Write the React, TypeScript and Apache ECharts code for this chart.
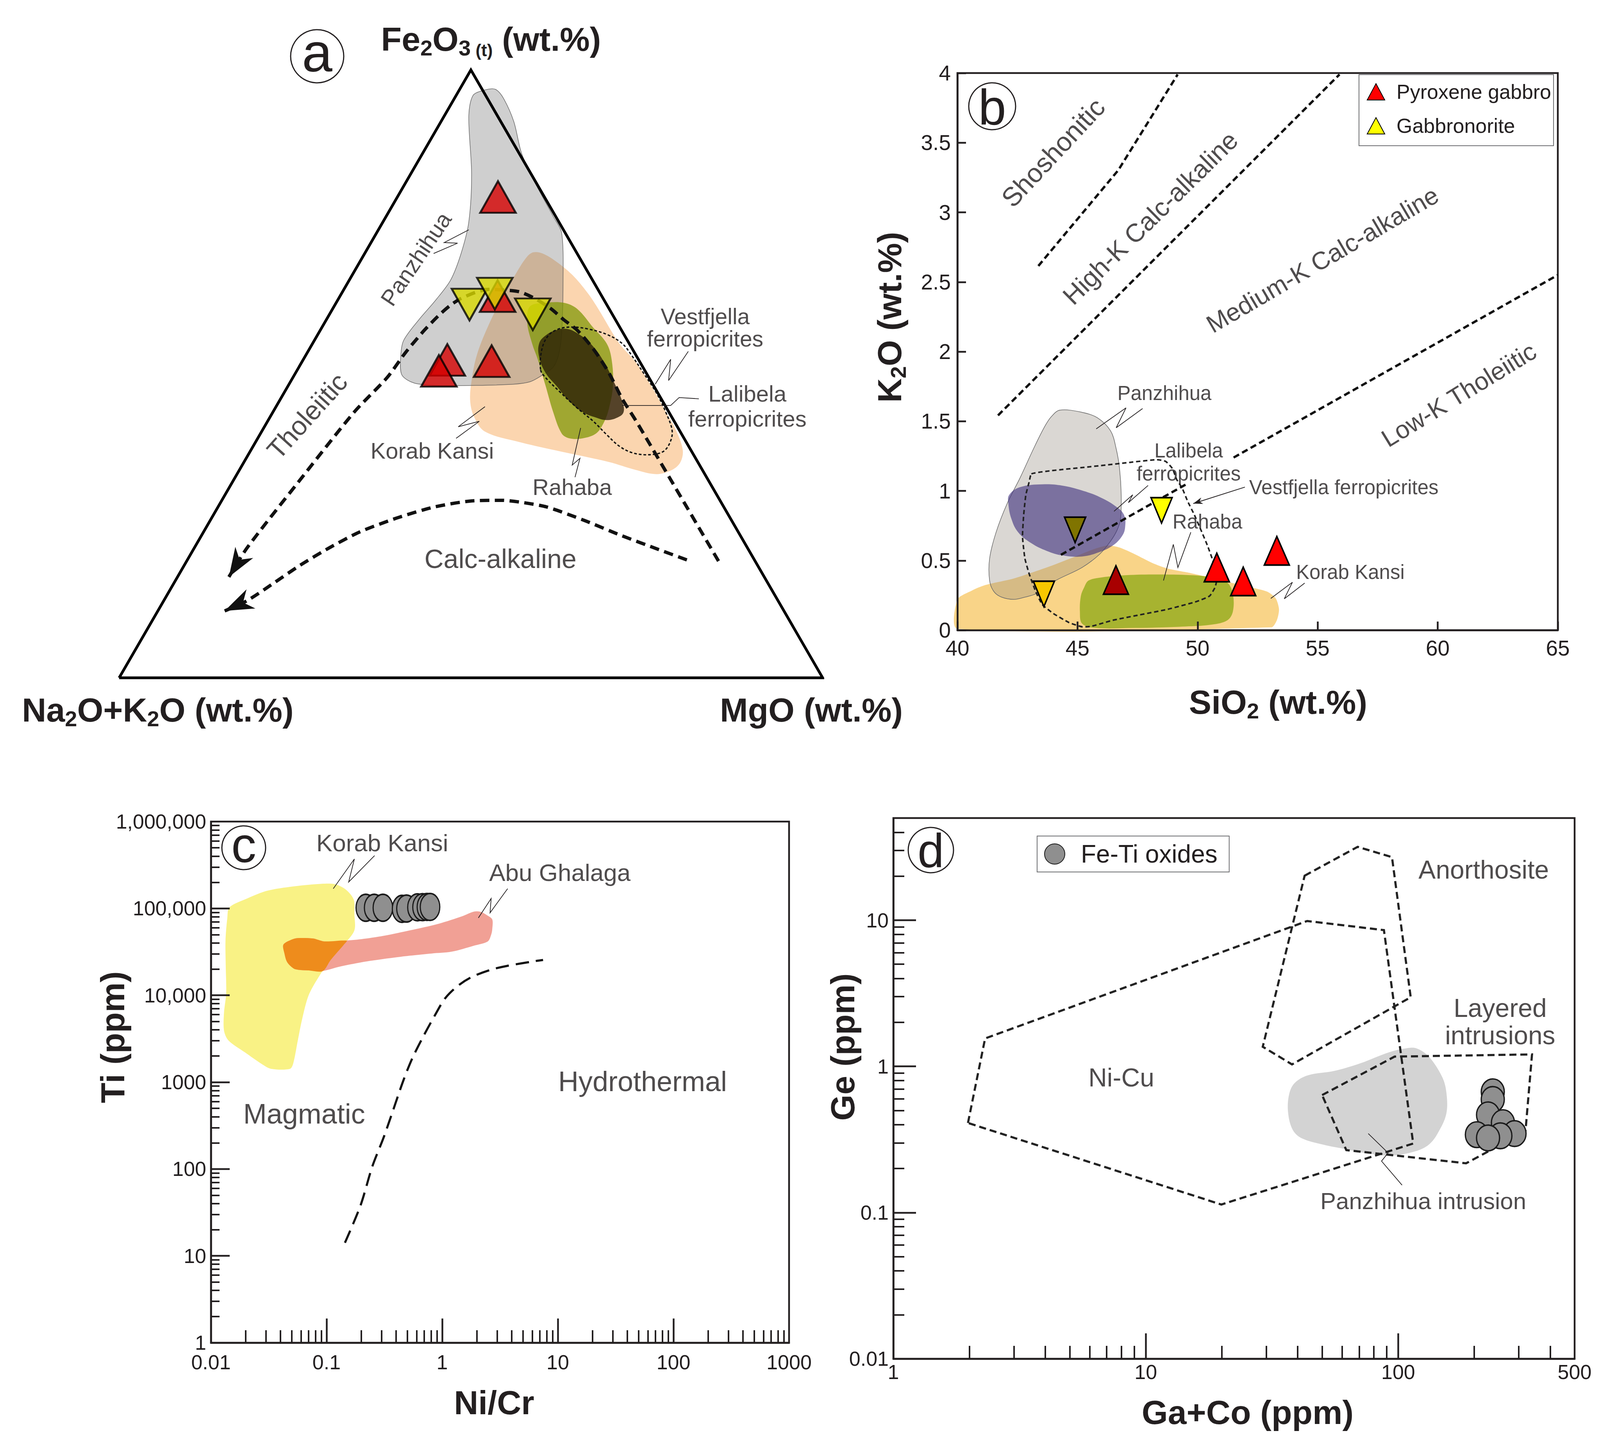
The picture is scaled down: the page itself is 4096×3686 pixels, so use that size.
import React, { useEffect, useRef } from 'react';
import * as echarts from 'echarts';

const FONT = "'Liberation Sans', Arial, Helvetica, sans-serif";
const INK = '#231f20';
type Pt = [number, number];

// ================= (a) AFM ternary: Fe2O3(t) - Na2O+K2O - MgO =================
const pyxGabbroA_Fe = [79.1, 62.8, 52.3, 50.5, 52.1];
const pyxGabbroA_Alk = [6.6, 14.8, 27.2, 29.3, 21.0];
const pyxGabbroA_Mg = [14.3, 22.4, 20.5, 20.2, 26.9];
const gabbronoriteA_Fe = [61.4, 63.2, 59.8];
const gabbronoriteA_Alk = [19.5, 15.0, 11.3];
const gabbronoriteA_Mg = [19.1, 21.8, 28.9];

// outlines in the diagram's plotting frame: [position along base (0 = Na2O+K2O corner, 100 = MgO corner), Fe2O3 %]
const afmFrame: Pt[] = [[0, 0], [50, 100], [100, 0], [0, 0]];
const afmPanzhihua: Pt[] = [[50.3,95.8],[52.0,96.7],[53.5,96.8],[54.6,95.4],[56.1,91.5],[57.2,86.3],[59.1,81.5],[61.7,75.9],[62.9,73.2],[63.1,65.4],[62.9,56.7],[62.5,53.3],[61.7,51.1],[59.9,49.6],[58.4,48.7],[56.1,48.3],[50.9,48.1],[44.9,48.1],[41.9,48.5],[40.2,49.8],[40.0,52.4],[40.4,55.4],[42.6,58.9],[44.9,62.0],[47.1,65.4],[48.6,69.8],[49.7,75.0],[50.1,82.8],[49.7,92.4]];
const afmKorabKansi: Pt[] = [[58.9,70.0],[60.2,69.8],[62.1,68.5],[64.4,66.3],[66.6,63.3],[68.1,60.7],[71.1,55.0],[73.4,52.0],[75.6,48.1],[77.5,44.2],[79.0,41.1],[80.1,37.6],[79.8,35.5],[78.6,34.2],[76.4,33.5],[73.4,34.2],[69.6,35.5],[62.1,37.4],[56.5,38.9],[52.0,40.5],[50.5,42.8],[49.9,45.5],[50.1,48.9],[50.9,53.3],[52.7,58.5],[54.6,62.8],[56.5,66.7],[58.0,69.3]];
const afmRahaba: Pt[] = [[58.4,61.1],[60.6,61.7],[63.2,61.7],[65.1,60.7],[67.4,57.6],[69.3,55.0],[70.0,52.4],[70.2,48.1],[69.6,44.2],[68.9,42.0],[67.8,40.2],[65.9,39.4],[64.0,39.4],[62.9,40.2],[61.7,43.7],[60.6,48.1],[59.5,52.4],[58.7,55.0],[58.0,58.5]];
const afmLalibela: Pt[] = [[59.7,55.0],[60.6,56.3],[62.1,57.2],[63.6,57.4],[65.1,56.7],[67.0,55.0],[68.9,52.0],[70.4,48.5],[71.5,45.5],[71.7,43.7],[70.8,42.8],[69.3,42.4],[67.8,42.8],[65.9,43.7],[64.0,45.5],[62.1,48.1],[60.6,50.2],[59.7,52.8]];
const afmVestfjella: Pt[] = [[59.9,50.7],[60.1,54.1],[61.0,56.3],[62.5,57.4],[64.4,57.7],[66.6,57.4],[69.3,56.5],[71.5,55.0],[73.0,52.8],[74.5,50.2],[76.4,46.8],[77.7,43.7],[78.6,40.7],[78.3,38.7],[77.3,37.2],[75.3,36.7],[73.0,37.0],[71.1,38.1],[69.3,40.0],[67.4,42.2],[65.1,44.4],[62.5,47.2],[60.6,49.4]];
const afmTholeiiticTrend: Pt[] = [[85.2,19.2],[78.5,32.4],[75.4,38.5],[73.4,42.4],[71.5,45.9],[69.6,50.2],[67.4,54.1],[65.1,57.2],[63.2,58.9],[61.4,60.7],[59.1,62.4],[56.9,63.5],[54.6,63.8],[52.7,63.9],[50.9,63.5],[48.6,62.4],[47.1,61.3],[45.6,59.8],[43.4,57.2],[40.7,53.5],[38.1,49.4],[33.4,43.7],[25.2,31.8],[18.2,21.4],[15.6,16.6]];
const afmCalcAlkalineTrend: Pt[] = [[80.7,19.4],[76.7,21.1],[71.4,23.4],[66.1,25.9],[60.8,28.1],[57.0,28.9],[54.4,29.2],[50.1,29.1],[44.8,28.1],[39.5,26.3],[34.2,24.0],[29.9,21.4],[25.7,18.5],[22.0,15.6],[18.2,12.7],[15.0,11.0]];
const afmLeaderPanzhihua: Pt[] = [[44.7,69.8],[48.1,71.5],[46.2,71.6],[49.7,73.7]];
const afmLeaderKorab: Pt[] = [[47.9,39.4],[51.2,42.2],[48.2,41.3],[52.0,44.6]];
const afmLeaderRahaba: Pt[] = [[65.6,41.1],[64.4,35.0],[65.5,36.1],[64.8,33.0]];
const afmLeaderVestfjella: Pt[] = [[80.9,53.7],[78.1,48.9],[78.4,52.4],[76.2,48.3]];
const afmLeaderLalibela: Pt[] = [[82.4,45.9],[79.6,46.1],[78.4,44.8],[71.5,44.8]];

// ================= (b) K2O vs SiO2 =================
const pyxGabbroB_SiO2 = [46.6, 50.8, 51.9, 53.3];
const pyxGabbroB_K2O = [0.36, 0.45, 0.35, 0.57];
const gabbronoriteB_SiO2 = [44.9, 48.5, 43.6];
const gabbronoriteB_K2O = [0.72, 0.86, 0.26];
const pyxGabbroB_fill = ['#a80000', '#ff0000', '#ff0000', '#ff0000'];
const gabbronoriteB_fill = ['#807400', '#ffff00', '#f7c600'];

const shoshoniticLine: Pt[] = [[43.37, 2.615], [46.7, 3.303], [49.17, 3.99]];
const highKLine: Pt[] = [[41.69, 1.542], [55.91, 3.99]];
const mediumKLine: Pt[] = [[44.31, 0.541], [65.0, 2.55]];
const mediumKLabelGap = [49.5, 51.5];
const sio2Panzhihua: Pt[] = [[44.27,1.58],[45.19,1.564],[45.83,1.525],[46.38,1.43],[46.61,1.303],[46.75,1.161],[46.82,0.972],[46.79,0.798],[46.65,0.719],[46.38,0.64],[45.92,0.545],[45.19,0.45],[44.09,0.356],[43.26,0.261],[42.81,0.237],[42.35,0.221],[41.84,0.237],[41.52,0.277],[41.34,0.356],[41.34,0.514],[41.61,0.703],[42.07,0.909],[42.62,1.098],[43.17,1.303],[43.63,1.461],[43.91,1.533]];
const sio2Lalibela: Pt[] = [[42.16,0.972],[42.62,1.027],[43.54,1.047],[44.36,1.038],[45.19,1.003],[45.92,0.956],[46.56,0.893],[46.93,0.83],[46.98,0.735],[46.84,0.672],[46.47,0.608],[45.92,0.561],[45.19,0.529],[44.36,0.537],[43.72,0.569],[43.08,0.624],[42.53,0.703],[42.25,0.798],[42.12,0.909]];
const sio2KorabKansi: Pt[] = [[40.0,0.22],[40.61,0.285],[41.16,0.324],[42.35,0.371],[43.72,0.45],[44.91,0.529],[45.74,0.585],[46.29,0.608],[46.75,0.593],[47.39,0.545],[48.12,0.482],[48.76,0.442],[49.68,0.411],[50.69,0.371],[51.97,0.316],[52.89,0.277],[53.25,0.229],[53.39,0.15],[53.3,0.071],[53.07,0.02],[40.0,0.01]];
const sio2Rahaba: Pt[] = [[45.46,0.356],[46.01,0.379],[47.02,0.395],[48.3,0.4],[49.68,0.395],[50.6,0.379],[51.24,0.34],[51.47,0.261],[51.47,0.134],[51.24,0.071],[50.6,0.04],[49.22,0.024],[47.39,0.016],[45.74,0.016],[45.19,0.047],[45.1,0.134],[45.14,0.245],[45.28,0.308]];
const sio2Vestfjella: Pt[] = [[43.08,1.122],[43.91,1.145],[45.56,1.174],[47.2,1.205],[48.31,1.224],[48.67,1.212],[48.95,1.161],[49.13,1.082],[49.36,1.019],[49.59,0.924],[49.86,0.83],[50.14,0.719],[50.41,0.608],[50.64,0.498],[50.82,0.387],[50.73,0.308],[50.5,0.245],[49.95,0.205],[48.76,0.15],[47.39,0.103],[46.47,0.071],[45.56,0.027],[45.19,0.024],[44.64,0.055],[44.0,0.119],[43.54,0.182],[43.26,0.277],[42.99,0.403],[42.81,0.514],[42.71,0.672],[42.76,0.83],[42.85,0.972],[42.99,1.066]];
const sio2LeaderPanzhihua: Pt[] = [[45.78,1.445],[47.02,1.596],[46.61,1.453],[47.71,1.591]];
const sio2LeaderLalibela: Pt[] = [[46.52,0.853],[47.3,0.972],[47.12,0.916],[47.94,1.039]];
const sio2LeaderRahaba: Pt[] = [[48.58,0.356],[48.99,0.616],[49.18,0.45],[49.72,0.703]];
const sio2LeaderKorab: Pt[] = [[53.05,0.228],[53.95,0.344],[53.61,0.225],[54.46,0.338]];
const sio2ArrowVestfjella: Pt[] = [[51.97,1.027],[49.82,0.909]];

// ================= (c) Ti vs Ni/Cr =================
const feTiC_NiCr = [0.2185, 0.258, 0.307, 0.45, 0.491, 0.611, 0.676, 0.738, 0.785];
const feTiC_Ti = [101800, 101800, 101800, 98900, 99700, 103000, 103500, 104100, 104100];
const nicrLabels = [0.01, 0.1, 1, 10, 100, 1000];
const tiLabels = [1, 10, 100, 1000, 10000, 100000, 1000000];
const nicrMajorTicks = [0.1, 1, 10, 100];
const tiMajorTicks = [10, 100, 1000, 10000, 100000];
const korabKansiC: Pt[] = [[0.01446,103000],[0.02054,130100],[0.03046,159500],[0.0515,179200],[0.091,192200],[0.1183,190000],[0.1473,164200],[0.1717,126300],[0.174,86500],[0.174,55900],[0.141,38240],[0.1084,25440],[0.0871,16920],[0.07,10010],[0.0614,5275],[0.0562,2944],[0.0515,1644],[0.0482,1421],[0.0332,1421],[0.0279,1597],[0.0197,2201],[0.01415,3032],[0.01297,3939],[0.01297,6281],[0.01355,10610],[0.01342,22640],[0.01337,42980],[0.01385,76980]];
const abuGhalagaC: Pt[] = [[0.04229,38240],[0.04929,43480],[0.05622,45560],[0.07638,45030],[0.09508,41740],[0.141,42480],[0.2001,44250],[0.3101,48300],[0.5245,55860],[0.9267,66550],[1.5,81600],[1.867,91680],[2.129,91680],[2.428,84020],[2.71,74770],[2.71,57520],[2.651,49720],[2.482,41740],[1.867,37150],[1.205,31750],[0.8125,30300],[0.5245,28590],[0.3101,26190],[0.2001,24000],[0.1292,21360],[0.091,19010],[0.07,19340],[0.0538,19920],[0.04825,21990],[0.04516,24710],[0.04324,30300]];
const overlapC: Pt[] = [[0.04229,38240],[0.04929,43480],[0.05622,45560],[0.07638,45030],[0.09508,41740],[0.1493,42480],[0.141,38240],[0.1084,25440],[0.0926,19010],[0.07,19340],[0.0538,19920],[0.04825,21990],[0.04516,24710],[0.04324,30300]];
const hydroBoundary: Pt[] = [[0.1442,14.15],[0.1963,37.8],[0.249,107.5],[0.3101,226.7],[0.3614,406],[0.46,1031],[0.5479,1847],[0.6822,3308],[0.8677,5925],[1.057,9175],[1.345,12640],[1.787,16150],[2.594,19570],[3.601,21740],[6.307,24710],[7.456,25530]];
const nicrLeaderKorab: Pt[] = [[0.1143,169000],[0.174,371200],[0.1553,201400],[0.2602,405200]];
const nicrLeaderAbu: Pt[] = [[2.056,77860],[2.651,130100],[2.594,89030],[3.681,169000]];

// ================= (d) Ge vs Ga+Co =================
const feTiD_GaCo = [237, 237, 227, 260, 205, 289, 254, 227];
const feTiD_Ge = [0.67, 0.594, 0.466, 0.412, 0.341, 0.347, 0.335, 0.324];
const gacoLabels = [1, 10, 100, 500];
const geLabels = [0.01, 0.1, 1, 10];
const gacoMajorTicks = [10, 100];
const geMajorTicks = [0.1, 1, 10];
const niCuField: Pt[] = [[1.975,0.4103],[2.309,1.553],[43.6,9.877],[87.8,8.558],[114.7,0.2967],[19.93,0.1135]];
const anorthositeField: Pt[] = [[42.6,20.17],[69.1,31.77],[94.5,27.01],[112.1,2.972],[37.96,1.032],[29.07,1.363]];
const layeredField: Pt[] = [[49.96,0.6364],[96.8,1.167],[339.0,1.208],[319.3,0.359],[185.8,0.2173],[62.3,0.2675]];
const panzhihuaField: Pt[] = [[38.9,0.77],[43.9,0.869],[55.8,0.931],[71.0,1.052],[92.1,1.25],[108.1,1.331],[118.4,1.327],[132.2,1.167],[149.0,0.854],[155.1,0.67],[155.1,0.474],[143.2,0.347],[132.2,0.2916],[117.2,0.2628],[94.0,0.2453],[75.4,0.254],[61.7,0.2721],[50.5,0.2916],[41.3,0.3236],[38.1,0.3717],[36.6,0.4905],[37.0,0.6475]];
const gacoLeaderPanzhihua: Pt[] = [[76.1,0.347],[91.2,0.256],[85.9,0.225],[103.6,0.154]];

// ================= helpers =================
const IDX: Record<string, [number, number]> = { a: [0, 0], b: [1, 1], c: [2, 2], d: [4, 4] };
const ELLIPSE = 'path://M0,50A50,50,0,1,1,100,50A50,50,0,1,1,0,50Z';

function tern(fe: number, alk: number, mg: number): Pt {
  const s = fe + alk + mg;
  return [((mg + fe / 2) / s) * 100, (fe / s) * 100];
}

function region(panel: string, pts: Pt[], style: any, smooth = 0.35, z = 2) {
  const [xi, yi] = IDX[panel];
  return {
    type: 'custom', coordinateSystem: 'cartesian2d', xAxisIndex: xi, yAxisIndex: yi, silent: true, z,
    data: [pts[0]],
    renderItem: (_p: any, api: any) => ({
      type: 'polygon',
      shape: { points: pts.map((p) => api.coord(p)), smooth },
      style,
    }),
  };
}

function path(panel: string, pts: Pt[], color: string, width: number, dash: any, smooth: any = false, z = 3) {
  const [xi, yi] = IDX[panel];
  return {
    type: 'line', xAxisIndex: xi, yAxisIndex: yi, data: pts, symbol: 'none', silent: true, z, clip: false,
    smooth, lineStyle: { color, width, type: dash, cap: 'butt', join: 'miter' },
  };
}

function arrowHead(panel: string, from: Pt, tip: Pt, len: number, wid: number, color: string) {
  const [xi, yi] = IDX[panel];
  return {
    type: 'custom', coordinateSystem: 'cartesian2d', xAxisIndex: xi, yAxisIndex: yi, silent: true, z: 4,
    data: [tip],
    renderItem: (_p: any, api: any) => {
      const a = api.coord(from);
      const b = api.coord(tip);
      const dx = b[0] - a[0];
      const dy = b[1] - a[1];
      const d = Math.hypot(dx, dy) || 1;
      const ux = dx / d, uy = dy / d, nx = -uy, ny = ux;
      const pts = [
        [b[0], b[1]],
        [b[0] - len * ux + (wid / 2) * nx, b[1] - len * uy + (wid / 2) * ny],
        [b[0] - 0.7 * len * ux, b[1] - 0.7 * len * uy],
        [b[0] - len * ux - (wid / 2) * nx, b[1] - len * uy - (wid / 2) * ny],
      ];
      return { type: 'polygon', shape: { points: pts }, style: { fill: color } };
    },
  };
}

function textAt(panel: string, pos: Pt, text: string, size: number, rotate = 0, lineHeight?: number) {
  const [xi, yi] = IDX[panel];
  return {
    type: 'scatter', xAxisIndex: xi, yAxisIndex: yi, silent: true, z: 6, symbolSize: 1,
    itemStyle: { color: 'rgba(0,0,0,0)' }, data: [pos],
    label: {
      show: true, position: 'inside', formatter: text, fontSize: size, fontFamily: FONT, color: INK,
      rotate, lineHeight: lineHeight ?? Math.round(size * 1.15), align: 'center', verticalAlign: 'middle',
    },
  };
}

function lerpY(line: Pt[], x: number) {
  const [p, q] = line;
  return p[1] + ((x - p[0]) / (q[0] - p[0])) * (q[1] - p[1]);
}

function minors(fromExp: number, toExp: number, maxVal: number) {
  const out: number[] = [];
  for (let e = fromExp; e < toExp; e++) {
    for (let k = 2; k <= 9; k++) {
      const v = k * Math.pow(10, e);
      if (v < maxVal * 0.999) out.push(v);
    }
  }
  return out;
}

function fmtNum(v: number) {
  const n = Number(v.toPrecision(3));
  if (n >= 1) {
    const r = Math.round(n);
    const s = String(r);
    return r >= 10000 ? s.replace(/\B(?=(\d{3})+(?!\d))/g, ',') : s;
  }
  return String(Number(n.toPrecision(1)));
}

function logAxes(grid: number, min: number, max: number, pos: string, majors: number[], minorVals: number[], labels: number[], majorLen: number, minorLen: number, margin: number) {
  const nudged = labels.map((v) => (v <= min ? v * 1.0001 : v >= max ? v * 0.9999 : v));
  const common = {
    gridIndex: grid, type: 'log', logBase: 10, min, max, position: pos, z: 10,
    splitLine: { show: false }, minorTick: { show: false }, minorSplitLine: { show: false },
  };
  return [
    {
      ...common,
      axisLine: { show: true, onZero: false, lineStyle: { color: INK, width: 4.5 } },
      axisTick: { show: true, inside: true, length: majorLen, customValues: majors, lineStyle: { color: INK, width: 4.5 } },
      axisLabel: { show: true, customValues: nudged, formatter: fmtNum, fontSize: 52, fontFamily: FONT, color: INK, margin },
    },
    {
      ...common,
      axisLine: { show: false },
      axisTick: { show: true, inside: true, length: minorLen, customValues: minorVals, lineStyle: { color: INK, width: 4 } },
      axisLabel: { show: false },
    },
  ];
}

const RICH = {
  m: { fontSize: 86, fontWeight: 'bold', fontFamily: FONT, fill: INK, lineHeight: 100, verticalAlign: 'middle' },
  s: { fontSize: 56, fontWeight: 'bold', fontFamily: FONT, fill: INK, lineHeight: 56, verticalAlign: 'bottom' },
  t: { fontSize: 44, fontWeight: 'bold', fontFamily: FONT, fill: INK, lineHeight: 44, verticalAlign: 'bottom' },
};

function title(x: number, y: number, rotation: number, text: string) {
  return {
    type: 'text', x, y, rotation, z: 50,
    style: { text, rich: RICH, align: 'center', verticalAlign: 'middle', textAlign: 'center', textVerticalAlign: 'middle' },
  };
}

function circled(cx: number, cy: number, r: number, letter: string, size: number, dy: number) {
  return [
    { type: 'circle', z: 50, shape: { cx, cy, r }, style: { fill: 'none', stroke: INK, lineWidth: 3 } },
    {
      type: 'text', x: cx, y: cy + dy, z: 51,
      style: { text: letter, fontSize: size, fontFamily: FONT, fill: INK, align: 'center', verticalAlign: 'middle', textAlign: 'center', textVerticalAlign: 'middle' },
    },
  ];
}

function buildOption() {
  const mediumKSeg1: Pt[] = [mediumKLine[0], [mediumKLabelGap[0], lerpY(mediumKLine, mediumKLabelGap[0])]];
  const mediumKSeg2: Pt[] = [[mediumKLabelGap[1], lerpY(mediumKLine, mediumKLabelGap[1])], mediumKLine[1]];
  const triStyle = { color: '#000', borderColor: '#000', borderWidth: 5 };
  const bDash = [16, 9];
  const dDash = [18, 10];

  const series: any[] = [
    // ---------- (b) ----------
    region('b', sio2KorabKansi, { fill: 'rgba(247,196,90,0.72)' }, 0.25),
    region('b', sio2Panzhihua, { fill: 'rgba(150,140,130,0.35)', stroke: '#6b6b6b', lineWidth: 1.5 }, 0.35),
    region('b', sio2Lalibela, { fill: 'rgba(60,45,125,0.6)' }, 0.4),
    region('b', sio2Rahaba, { fill: 'rgba(160,176,40,0.92)' }, 0.35),
    region('b', sio2Vestfjella, { fill: 'none', stroke: '#222', lineWidth: 4, lineDash: [11, 7] }, 0.15, 3),
    path('b', shoshoniticLine, '#111', 6, bDash),
    path('b', highKLine, '#111', 6, bDash),
    path('b', mediumKSeg1, '#111', 6, bDash),
    path('b', mediumKSeg2, '#111', 6, bDash),
    path('b', sio2LeaderPanzhihua, INK, 1.8, 'solid'),
    path('b', sio2LeaderLalibela, INK, 1.8, 'solid'),
    path('b', sio2LeaderRahaba, INK, 1.8, 'solid'),
    path('b', sio2LeaderKorab, INK, 1.8, 'solid'),
    path('b', sio2ArrowVestfjella, INK, 2, 'solid'),
    arrowHead('b', sio2ArrowVestfjella[0], sio2ArrowVestfjella[1], 24, 17, INK),
    {
      name: 'Pyroxene gabbro', type: 'scatter', xAxisIndex: 1, yAxisIndex: 1, z: 5, silent: true,
      symbol: 'triangle', symbolSize: [64, 73],
      itemStyle: { color: '#ff0000', borderColor: '#000', borderWidth: 4, opacity: 1 },
      data: pyxGabbroB_SiO2.map((x, i) => ({ value: [x, pyxGabbroB_K2O[i]], itemStyle: { color: pyxGabbroB_fill[i] } })),
    },
    {
      name: 'Gabbronorite', type: 'scatter', xAxisIndex: 1, yAxisIndex: 1, z: 5, silent: true,
      symbol: 'triangle', symbolRotate: 180, symbolSize: [54, 65],
      itemStyle: { color: '#ffff00', borderColor: '#000', borderWidth: 4, opacity: 1 },
      data: gabbronoriteB_SiO2.map((x, i) => ({ value: [x, gabbronoriteB_K2O[i]], itemStyle: { color: gabbronoriteB_fill[i] } })),
    },
    textAt('b', [43.98, 3.43], 'Shoshonitic', 68, 47),
    textAt('b', [48.03, 2.96], 'High-K Calc-alkaline', 66, 44.6),
    textAt('b', [55.2, 2.66], 'Medium-K Calc-alkaline', 64, 30.3),
    textAt('b', [60.88, 1.69], 'Low-K Tholeiitic', 64, 31.5),
    textAt('b', [48.62, 1.7], 'Panzhihua', 51),
    textAt('b', [49.63, 1.205], 'Lalibela\nferropicrites', 51, 0, 59),
    textAt('b', [56.09, 1.026], 'Vestfjella ferropicrites', 51),
    textAt('b', [50.41, 0.779], 'Rahaba', 51),
    textAt('b', [56.36, 0.416], 'Korab Kansi', 51),

    // ---------- (a) ----------
    region('a', afmKorabKansi, { fill: 'rgba(248,178,110,0.55)' }, 0.35),
    region('a', afmPanzhihua, { fill: 'rgba(110,110,110,0.33)', stroke: 'rgba(80,80,80,0.8)', lineWidth: 1.5 }, 0.3),
    region('a', afmRahaba, { fill: 'rgba(125,150,0,0.72)' }, 0.35),
    region('a', afmLalibela, { fill: 'rgba(38,26,4,0.78)' }, 0.4),
    region('a', afmVestfjella, { fill: 'none', stroke: '#111', lineWidth: 3.4, lineDash: [7, 5] }, 0.35, 3),
    path('a', afmFrame, '#000', 7, 'solid'),
    path('a', afmTholeiiticTrend, '#111', 8.5, [24, 14], 0.25),
    path('a', afmCalcAlkalineTrend, '#111', 8.5, [24, 14], 0.25),
    arrowHead('a', afmTholeiiticTrend[afmTholeiiticTrend.length - 2], afmTholeiiticTrend[afmTholeiiticTrend.length - 1], 74, 54, '#111'),
    arrowHead('a', afmCalcAlkalineTrend[afmCalcAlkalineTrend.length - 2], afmCalcAlkalineTrend[afmCalcAlkalineTrend.length - 1], 74, 54, '#111'),
    path('a', afmLeaderPanzhihua, INK, 1.8, 'solid'),
    path('a', afmLeaderKorab, INK, 1.8, 'solid'),
    path('a', afmLeaderRahaba, INK, 1.8, 'solid'),
    path('a', afmLeaderVestfjella, INK, 1.8, 'solid'),
    path('a', afmLeaderLalibela, INK, 1.8, 'solid'),
    {
      name: 'Pyroxene gabbro', type: 'scatter', xAxisIndex: 0, yAxisIndex: 0, z: 5, silent: true,
      symbol: 'triangle', symbolSize: [91, 81], itemStyle: { ...triStyle, color: '#d40000' },
      data: pyxGabbroA_Fe.map((f, i) => tern(f, pyxGabbroA_Alk[i], pyxGabbroA_Mg[i])),
    },
    {
      name: 'Gabbronorite', type: 'scatter', xAxisIndex: 0, yAxisIndex: 0, z: 5, silent: true,
      symbol: 'triangle', symbolRotate: 180, symbolSize: [91, 81], itemStyle: { ...triStyle, color: '#d8d800' },
      data: gabbronoriteA_Fe.map((f, i) => tern(f, gabbronoriteA_Alk[i], gabbronoriteA_Mg[i])),
    },
    textAt('a', [42.2, 68.9], 'Panzhihua', 58, 56),
    textAt('a', [44.5, 37.4], 'Korab Kansi', 58),
    textAt('a', [64.4, 31.4], 'Rahaba', 58),
    textAt('a', [83.3, 57.6], 'Vestfjella\nferropicrites', 57, 0, 57),
    textAt('a', [89.3, 44.7], 'Lalibela\nferropicrites', 58, 0, 64),
    textAt('a', [26.7, 43.1], 'Tholeiitic', 68, 48),
    textAt('a', [54.2, 19.6], 'Calc-alkaline', 68),

    // ---------- (c) ----------
    region('c', korabKansiC, { fill: '#f9f285' }, 0.3),
    region('c', abuGhalagaC, { fill: '#f1a095' }, 0.3),
    region('c', overlapC, { fill: '#ee8c1c' }, 0.3),
    path('c', hydroBoundary, '#111', 5.5, [34, 18], 0.3),
    path('c', nicrLeaderKorab, INK, 1.8, 'solid'),
    path('c', nicrLeaderAbu, INK, 1.8, 'solid'),
    {
      name: 'Fe-Ti oxides', type: 'scatter', xAxisIndex: 2, yAxisIndex: 2, z: 5, silent: true,
      symbol: ELLIPSE, symbolSize: [50, 69],
      itemStyle: { color: '#8f8f8f', borderColor: '#1a1a1a', borderWidth: 3.5, opacity: 1 },
      data: feTiC_NiCr.map((x, i) => [x, feTiC_Ti[i]]),
    },
    textAt('c', [0.3034, 567500], 'Korab Kansi', 62),
    textAt('c', [10.41, 258600], 'Abu Ghalaga', 62),
    textAt('c', [0.0641, 430], 'Magmatic', 72),
    textAt('c', [54.1, 1018], 'Hydrothermal', 72),

    // ---------- (d) ----------
    region('d', panzhihuaField, { fill: '#d3d3d3' }, 0.35),
    region('d', niCuField, { fill: 'none', stroke: '#222', lineWidth: 5.5, lineDash: dDash }, 0, 3),
    region('d', anorthositeField, { fill: 'none', stroke: '#222', lineWidth: 5.5, lineDash: dDash }, 0, 3),
    region('d', layeredField, { fill: 'none', stroke: '#222', lineWidth: 5.5, lineDash: dDash }, 0, 3),
    path('d', gacoLeaderPanzhihua, INK, 1.8, 'solid'),
    {
      name: 'Fe-Ti oxides', type: 'scatter', xAxisIndex: 4, yAxisIndex: 4, z: 5, silent: true,
      symbol: ELLIPSE, symbolSize: [59, 66],
      itemStyle: { color: '#8f8f8f', borderColor: '#1a1a1a', borderWidth: 3.5, opacity: 1 },
      data: feTiD_GaCo.map((x, i) => [x, feTiD_Ge[i]]),
    },
    textAt('d', [218.2, 22.2], 'Anorthosite', 66),
    textAt('d', [253.5, 2.02], 'Layered\nintrusions', 66, 0, 70),
    textAt('d', [8.0, 0.838], 'Ni-Cu', 66),
    textAt('d', [125.7, 0.1195], 'Panzhihua intrusion', 60),
  ];

  const [cxMaj, cxMin] = logAxes(2, 0.01, 1000, 'bottom', nicrMajorTicks, minors(-2, 3, 1000), nicrLabels, 62, 32, 24);
  const [cyMaj, cyMin] = logAxes(2, 1, 1000000, 'left', tiMajorTicks, minors(0, 6, 1000000), tiLabels, 48, 22, 12);
  const [dxMaj, dxMin] = logAxes(3, 1, 500, 'bottom', gacoMajorTicks, minors(0, 3, 500), gacoLabels, 65, 33, 8);
  const [dyMaj, dyMin] = logAxes(3, 0.01, 50, 'left', geMajorTicks, minors(-2, 2, 50), geLabels, 58, 28, 12);

  const bAxisCommon = {
    gridIndex: 1, type: 'value', z: 10,
    axisLine: { show: true, onZero: false, lineStyle: { color: INK, width: 4.5 } },
    axisTick: { show: true, inside: true, length: 22, lineStyle: { color: INK, width: 4.5 } },
    splitLine: { show: false },
  };

  return {
    animation: false,
    backgroundColor: '#ffffff',
    textStyle: { fontFamily: FONT },
    grid: [
      { left: 305, top: 179, width: 1801, height: 1556, show: false },
      { left: 2451, top: 187, width: 1537, height: 1426, show: true, borderColor: INK, borderWidth: 4.5, backgroundColor: 'transparent' },
      { left: 540, top: 2103, width: 1480, height: 1334, show: true, borderColor: INK, borderWidth: 4.5, backgroundColor: 'transparent' },
      { left: 2287, top: 2094, width: 1744, height: 1384, show: true, borderColor: INK, borderWidth: 4.5, backgroundColor: 'transparent' },
    ],
    xAxis: [
      { gridIndex: 0, type: 'value', min: 0, max: 100, show: false },
      { ...bAxisCommon, min: 40, max: 65, interval: 5, position: 'bottom',
        axisLabel: { fontSize: 55, fontFamily: FONT, color: INK, margin: 18 } },
      cxMaj, cxMin, dxMaj, dxMin,
    ],
    yAxis: [
      { gridIndex: 0, type: 'value', min: 0, max: 4, show: false, ...{ max: 100 } },
      { ...bAxisCommon, min: 0, max: 4, interval: 0.5, position: 'left',
        axisLabel: { fontSize: 55, fontFamily: FONT, color: INK, margin: 17 } },
      cyMaj, cyMin, dyMaj, dyMin,
    ],
    legend: [
      {
        data: [{ name: 'Pyroxene gabbro', icon: 'triangle' }, { name: 'Gabbronorite', icon: 'triangle' }],
        orient: 'vertical', left: 3479, top: 191, padding: [18, 6, 25, 20], itemGap: 35,
        itemWidth: 45, itemHeight: 42, borderColor: '#6d6e71', borderWidth: 2, selectedMode: false,
        textStyle: { fontSize: 52, fontFamily: FONT, color: INK, padding: [0, 0, 0, 25] },
      },
      {
        data: [{ name: 'Fe-Ti oxides', icon: ELLIPSE }],
        orient: 'horizontal', left: 2655, top: 2140, padding: [14, 30, 14, 18],
        itemWidth: 52, itemHeight: 69, borderColor: '#6d6e71', borderWidth: 2, selectedMode: false,
        textStyle: { fontSize: 64, fontFamily: FONT, color: INK, padding: [0, 0, 0, 36] },
      },
    ],
    graphic: {
      elements: [
        ...circled(812, 144, 68, 'a', 140, -10),
        ...circled(2540, 272, 60, 'b', 128, 2),
        ...circled(624, 2170, 56, 'c', 128, -8),
        ...circled(2383, 2176, 58, 'd', 122, 2),
        title(1257, 100, 0, '{m|Fe}{s|2}{m|O}{s|3}{t| (t)}{m| (wt.%)}'),
        title(404, 1817, 0, '{m|Na}{s|2}{m|O+K}{s|2}{m|O (wt.%)}'),
        title(2077, 1817, 0, '{m|MgO (wt.%)}'),
        title(2277, 812, Math.PI / 2, '{m|K}{s|2}{m|O (wt.%)}'),
        title(3272, 1797, 0, '{m|SiO}{s|2}{m| (wt.%)}'),
        title(288, 2655, Math.PI / 2, '{m|Ti (ppm)}'),
        title(1265, 3590, 0, '{m|Ni/Cr}'),
        title(2157, 2680, Math.PI / 2, '{m|Ge (ppm)}'),
        title(3194, 3615, 0, '{m|Ga+Co (ppm)}'),
      ],
    },
    series,
  };
}

export default function App() {
  const ref = useRef<HTMLDivElement>(null);
  useEffect(() => {
    if (!ref.current) return;
    const chart = echarts.init(ref.current, undefined, { renderer: 'svg' });
    chart.setOption(buildOption() as any);
    return () => chart.dispose();
  }, []);
  return (
    <div
      ref={ref}
      style={{ position: 'fixed', left: 0, top: 0, width: 4096, height: 3686, background: '#ffffff' }}
    />
  );
}
